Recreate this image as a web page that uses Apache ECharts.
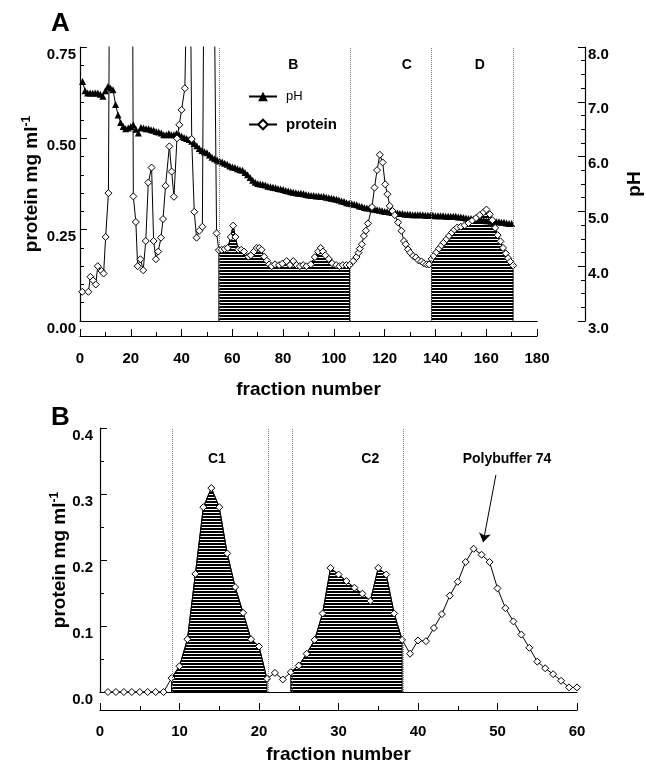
<!DOCTYPE html>
<html>
<head>
<meta charset="utf-8">
<script src="https://cdn.jsdelivr.net/npm/echarts@6/dist/echarts.min.js"></script>
<style>
  html, body { margin: 0; padding: 0; background: #fff; }
  #chart { width: 646px; height: 775px; }
</style>
</head>
<body>
<div id="chart"></div>
<script>
// ---- panel A: protein (left axis) and pH (right axis) ----
const fracA = [0.9,3.3,4.1,5.2,6.2,7.0,8.5,9.3,10.1,11.2,12.0,14.0,16.0,18.0,20.3,21.0,22.0,22.7,23.8,24.9,25.9,26.9,28.2,29.0,29.9,30.8,31.9,32.7,33.7,35.2,36.1,37.0,38.2,39.1,40.0,41.3,42.5,43.4,44.0,45.0,45.9,47.0,48.2,49.0,50.5,52.2,53.8,54.7,55.8,57.0,58.2,59.4,60.3,61.2,62.3,63.5,64.6,66.3,67.3,68.5,69.6,70.6,71.5,72.5,73.6,74.5,75.5,76.8,78.4,79.7,81.4,82.7,84.0,85.3,86.6,87.9,89.2,90.9,92.5,93.8,94.8,95.7,96.6,98.0,99.3,100.9,102.2,103.5,104.9,106.2,107.6,108.9,109.7,110.2,111.0,111.8,112.6,113.4,115.0,116.0,117.0,118.1,119.2,120.2,121.1,122.0,123.1,124.0,125.3,126.6,127.6,128.3,129.2,130.1,131.2,132.3,133.3,134.5,135.4,136.5,137.5,138.5,139.3,140.4,141.4,142.4,143.3,144.4,145.4,146.5,147.5,148.6,150.0,151.5,153.0,154.5,156.0,157.5,159.0,160.1,161.4,162.4,163.5,164.5,165.6,166.6,167.7,168.6,169.5,170.6];
const proteinA = [0.080,0.080,0.121,0.111,0.100,0.150,0.137,0.130,0.230,0.350,1.50,2.2,2.5,2.2,1.8,0.341,0.271,0.150,0.169,0.139,0.219,0.379,0.420,0.219,0.169,0.190,0.228,0.279,0.370,0.478,0.409,0.340,0.500,0.537,0.578,0.637,1.10,1.00,0.498,0.299,0.228,0.247,0.258,1.2,2.5,1.4,0.240,0.194,0.195,0.197,0.200,0.230,0.261,0.230,0.195,0.195,0.190,0.176,0.180,0.190,0.200,0.200,0.195,0.176,0.165,0.155,0.150,0.155,0.153,0.157,0.164,0.153,0.164,0.153,0.150,0.153,0.150,0.155,0.175,0.190,0.200,0.190,0.180,0.170,0.158,0.153,0.150,0.153,0.153,0.153,0.164,0.175,0.187,0.198,0.210,0.233,0.247,0.267,0.312,0.365,0.413,0.455,0.434,0.374,0.347,0.315,0.301,0.290,0.270,0.247,0.219,0.210,0.196,0.187,0.178,0.174,0.166,0.163,0.158,0.155,0.155,0.170,0.178,0.188,0.198,0.207,0.215,0.224,0.233,0.242,0.250,0.256,0.258,0.262,0.268,0.275,0.282,0.290,0.298,0.305,0.292,0.276,0.255,0.235,0.218,0.200,0.185,0.172,0.162,0.152];
// pH, fractions 1..170
const phA = [7.37,7.20,7.16,7.16,7.16,7.16,7.16,7.14,7.10,7.20,7.28,7.25,7.22,6.95,6.76,6.62,6.55,6.51,6.52,6.55,
  6.58,6.50,6.43,6.53,6.52,6.51,6.51,6.49,6.48,6.46,6.45,6.43,6.40,6.40,6.42,6.40,6.40,6.42,6.40,6.37,
  6.35,6.33,6.31,6.28,6.24,6.20,6.15,6.11,6.09,6.07,6.03,5.99,5.96,5.94,5.92,5.90,5.88,5.86,5.83,5.81,
  5.80,5.78,5.76,5.75,5.71,5.67,5.62,5.57,5.53,5.51,5.50,5.49,5.48,5.46,5.45,5.44,5.43,5.42,5.41,5.40,
  5.38,5.37,5.36,5.35,5.34,5.33,5.33,5.32,5.31,5.30,5.29,5.29,5.28,5.28,5.27,5.27,5.26,5.25,5.24,5.23,
  5.22,5.21,5.19,5.18,5.16,5.15,5.14,5.13,5.12,5.10,5.09,5.07,5.06,5.06,5.05,5.04,5.03,5.02,5.01,5.00,
  5.00,4.99,4.98,4.98,4.97,4.96,4.96,4.95,4.95,4.95,4.94,4.94,4.94,4.94,4.94,4.93,4.93,4.93,4.93,4.92,
  4.92,4.92,4.92,4.91,4.91,4.91,4.91,4.91,4.90,4.90,4.89,4.88,4.87,4.87,4.86,4.85,4.85,4.84,4.84,4.83,
  4.83,4.82,4.82,4.81,4.81,4.80,4.80,4.79,4.78,4.78];
const phFracA = phA.map((v, i) => i + 1);

const regionsA = [[54.5, 106.3], [138, 171]];   // hatched pools
const dividersA = [55, 106.3, 138.2, 170.5];
const poolNamesA = ['B', 'C', 'D'];
const poolPosA = [[84, 0.70], [128.7, 0.70], [157.5, 0.70]];

// ---- panel B: protein, fractions 1..60 ----
const proteinB = [0,0,0,0,0,0,0,0,0.021,0.039,0.080,0.179,0.280,0.309,0.280,0.210,0.159,0.120,0.080,0.069,
  0.020,0.029,0.019,0.030,0.040,0.058,0.079,0.119,0.188,0.178,0.168,0.158,0.149,0.138,0.188,0.178,0.119,0.079,0.058,0.078,
  0.077,0.097,0.118,0.146,0.167,0.197,0.217,0.208,0.197,0.157,0.127,0.107,0.087,0.067,0.046,0.036,0.027,0.017,0.007,0.007];
const fracB = proteinB.map((v, i) => i + 1);
const regionsB = [[9, 21], [24, 38]];
const dividersB = [9.1, 21.2, 24.2, 38.1];
const poolNamesB = ['C1', 'C2', 'Polybuffer 74'];
const poolPosB = [[14.7, 0.353], [34, 0.353], [51.2, 0.353]];
const arrowB = [[49.8, 0.329], [48.2, 0.227]];

// horizontal hatching used for the pooled fractions
const hatch = document.createElement('canvas');
hatch.width = 4;
hatch.height = 3;
const hctx = hatch.getContext('2d');
hctx.fillStyle = '#fff';
hctx.fillRect(0, 0, 4, 3);
hctx.fillStyle = '#000';
hctx.fillRect(0, 0, 4, 2);

const FONT = 'Liberation Sans, Arial, sans-serif';
const pairs = (xs, ys) => xs.map((x, i) => [x, ys[i]]);

function fillSeries(xs, ys, range, xi, yi) {
  const pts = pairs(xs, ys).filter((p) => p[0] >= range[0] && p[0] <= range[1]);
  const data = [[pts[0][0], 0]].concat(pts, [[pts[pts.length - 1][0], 0]]);
  return {
    type: 'line',
    xAxisIndex: xi,
    yAxisIndex: yi,
    data: data,
    showSymbol: false,
    silent: true,
    z: 1,
    lineStyle: { color: '#000', width: 1 },
    areaStyle: { color: { image: hatch, repeat: 'repeat' }, opacity: 1 },
  };
}

const axisLine = { show: true, onZero: false, lineStyle: { color: '#000', width: 1.2 } };

function xAxisTicks(grid, max, interval, offset, margin, gap) {
  return {
    type: 'value', gridIndex: grid, position: 'bottom', min: 0, max: max, interval: interval, offset: offset,
    name: 'fraction number', nameLocation: 'middle', nameGap: gap, nameMoveOverlap: false,
    nameTextStyle: { fontFamily: FONT, fontSize: 19, fontWeight: 'bold', color: '#000' },
    axisLine: axisLine,
    axisTick: { show: true, inside: true, length: 7, lineStyle: { color: '#000' } },
    minorTick: { show: true, splitNumber: 2, length: 4, lineStyle: { color: '#000' } },
    axisLabel: { margin: margin, fontFamily: FONT, fontSize: 15, fontWeight: 'bold', color: '#000' },
    splitLine: { show: false },
  };
}
function xAxisBase(grid, max) {
  return {
    type: 'value', gridIndex: grid, position: 'bottom', offset: 0, min: 0, max: max,
    axisLine: axisLine,
    axisTick: { show: false }, axisLabel: { show: false }, splitLine: { show: false },
  };
}
const proteinName = 'protein mg ml{sup|-1}';
const nameStyle = {
  fontFamily: FONT, fontSize: 19, fontWeight: 'bold', color: '#000',
  rich: { sup: { fontFamily: FONT, fontSize: 12, fontWeight: 'bold', color: '#000', verticalAlign: 'top', padding: [0, 0, 10, 0] } },
};
const tickLabel = { fontFamily: FONT, fontSize: 15, fontWeight: 'bold', color: '#000', verticalAlign: 'top' };

const option = {
  animation: false,
  backgroundColor: '#fff',
  title: [
    { text: 'A', left: 46, top: 6, textStyle: { fontFamily: FONT, fontSize: 26, fontWeight: 'bold', color: '#000' } },
    { text: 'B', left: 46, top: 400, textStyle: { fontFamily: FONT, fontSize: 26, fontWeight: 'bold', color: '#000' } },
  ],
  legend: {
    data: ['pH', 'protein'],
    orient: 'vertical',
    left: 243,
    top: 85,
    itemWidth: 28,
    itemHeight: 12,
    itemGap: 14,
    formatter: (n) => (n === 'pH' ? '{s|pH}' : '{b|protein}'),
    textStyle: {
      padding: [0, 0, 0, 4],
      rich: {
        s: { fontFamily: FONT, fontSize: 13, color: '#000' },
        b: { fontFamily: FONT, fontSize: 15, fontWeight: 'bold', color: '#000' },
      },
    },
  },
  grid: [
    { left: 80, top: 47, width: 457, height: 274, outerBoundsMode: 'none' },
    { left: 100, top: 428, width: 477, height: 264, outerBoundsMode: 'none' },
  ],
  xAxis: [
    xAxisTicks(0, 180, 20, 15, 15, 44),
    xAxisBase(0, 180),
    xAxisTicks(1, 60, 10, 18, 14, 35),
    xAxisBase(1, 60),
  ],
  yAxis: [
    {
      type: 'value', gridIndex: 0, position: 'left', min: 0, max: 0.75, interval: 0.25,
      name: proteinName, nameLocation: 'middle', nameGap: 37, nameMoveOverlap: false, nameTextStyle: nameStyle,
      axisLine: axisLine,
      axisTick: { show: true, inside: true, length: 7, lineStyle: { color: '#000' } },
      minorTick: { show: true, splitNumber: 5, length: 4, lineStyle: { color: '#000' } },
      axisLabel: Object.assign({ margin: 4, formatter: (v) => v.toFixed(2) }, tickLabel),
      splitLine: { show: false },
    },
    {
      type: 'value', gridIndex: 0, position: 'right', offset: 48, min: 3, max: 8, interval: 1,
      name: 'pH', nameLocation: 'middle', nameGap: 40, nameMoveOverlap: false,
      nameTextStyle: { fontFamily: FONT, fontSize: 19, fontWeight: 'bold', color: '#000' },
      axisLine: axisLine,
      axisTick: { show: true, inside: true, length: 7, lineStyle: { color: '#000' } },
      minorTick: { show: true, splitNumber: 4, length: 4, lineStyle: { color: '#000' } },
      axisLabel: Object.assign({ margin: 3, formatter: (v) => v.toFixed(1) }, tickLabel),
      splitLine: { show: false },
    },
    {
      type: 'value', gridIndex: 1, position: 'left', min: 0, max: 0.4, interval: 0.1,
      name: proteinName, nameLocation: 'middle', nameGap: 29, nameMoveOverlap: false, nameTextStyle: nameStyle,
      axisLine: axisLine,
      axisTick: { show: true, inside: true, length: 7, lineStyle: { color: '#000' } },
      minorTick: { show: true, splitNumber: 2, length: 4, lineStyle: { color: '#000' } },
      axisLabel: Object.assign({ margin: 7, formatter: (v) => v.toFixed(1) }, tickLabel),
      splitLine: { show: false },
    },
  ],
  series: [],
};

const dotted = { type: 'dotted', color: '#777', width: 1 };
const poolLabel = { show: true, position: 'inside', fontFamily: FONT, fontSize: 14, fontWeight: 'bold', color: '#000' };

// panel A fills, dividers and pool names
regionsA.forEach((r) => option.series.push(fillSeries(fracA, proteinA, r, 0, 0)));
option.series.push({
  type: 'line', xAxisIndex: 0, yAxisIndex: 0, data: [], silent: true,
  markLine: { silent: true, symbol: ['none', 'none'], label: { show: false }, lineStyle: dotted,
    data: dividersA.map((x) => ({ xAxis: x })) },
  markPoint: { symbol: 'rect', symbolSize: 1, itemStyle: { color: 'rgba(0,0,0,0)' }, label: poolLabel,
    data: poolNamesA.map((n, i) => ({ coord: poolPosA[i], value: n, label: { formatter: n } })) },
});
option.series.push({
  name: 'pH', type: 'line', xAxisIndex: 0, yAxisIndex: 1, data: pairs(phFracA, phA),
  symbol: 'triangle', symbolSize: 7, z: 3,
  itemStyle: { color: '#000' }, lineStyle: { color: '#000', width: 1 },
});
option.series.push({
  name: 'protein', type: 'line', xAxisIndex: 0, yAxisIndex: 0, data: pairs(fracA, proteinA),
  symbol: 'diamond', symbolSize: 7, z: 4, clip: true,
  itemStyle: { color: '#fff', borderColor: '#000', borderWidth: 1 }, lineStyle: { color: '#000', width: 1 },
});

// panel B
regionsB.forEach((r) => option.series.push(fillSeries(fracB, proteinB, r, 2, 2)));
option.series.push({
  type: 'line', xAxisIndex: 2, yAxisIndex: 2, data: [], silent: true,
  markLine: { silent: true, symbol: ['none', 'none'], label: { show: false }, lineStyle: dotted,
    data: dividersB.map((x) => ({ xAxis: x })) },
  markPoint: { symbol: 'rect', symbolSize: 1, itemStyle: { color: 'rgba(0,0,0,0)' }, label: poolLabel,
    data: poolNamesB.map((n, i) => ({ coord: poolPosB[i], value: n, label: { formatter: n } })) },
});
option.series.push({
  type: 'line', xAxisIndex: 2, yAxisIndex: 2, data: [], silent: true,
  markLine: { silent: true, symbol: ['none', 'arrow'], symbolSize: 9, label: { show: false },
    lineStyle: { type: 'solid', color: '#000', width: 1 },
    data: [[{ coord: arrowB[0] }, { coord: arrowB[1] }]] },
});
option.series.push({
  name: 'proteinB', type: 'line', xAxisIndex: 2, yAxisIndex: 2, data: pairs(fracB, proteinB),
  symbol: 'diamond', symbolSize: 7, z: 4,
  itemStyle: { color: '#fff', borderColor: '#000', borderWidth: 1 }, lineStyle: { color: '#000', width: 1 },
});

const chart = echarts.init(document.getElementById('chart'));
chart.setOption(option);
</script>
</body>
</html>
